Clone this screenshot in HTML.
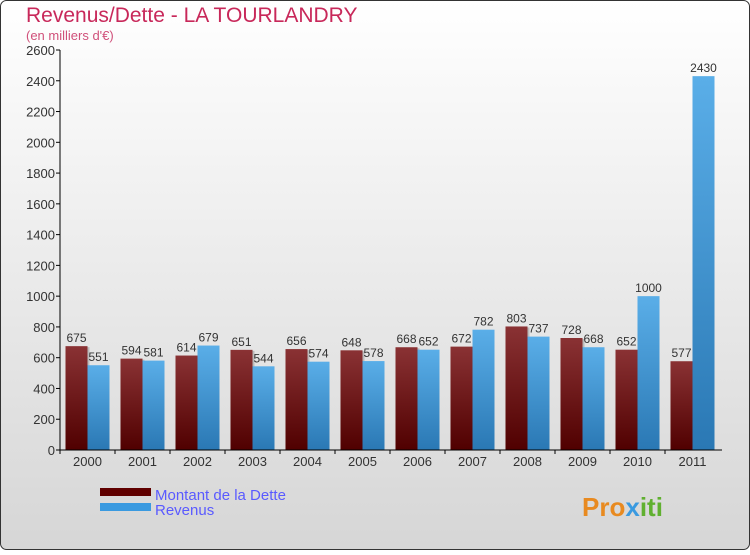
<!DOCTYPE html>
<html><head><meta charset="utf-8"><style>
body{margin:0;width:750px;height:550px;overflow:hidden;font-family:"Liberation Sans",sans-serif}
</style></head><body>
<svg width="750" height="550" xmlns="http://www.w3.org/2000/svg">
<defs>
<linearGradient id="bg" x1="0" y1="0" x2="0" y2="1"><stop offset="0" stop-color="#ffffff"/><stop offset="1" stop-color="#d6d6d6"/></linearGradient>
<linearGradient id="gd" x1="0" y1="0" x2="0" y2="1"><stop offset="0" stop-color="#8a3234"/><stop offset="1" stop-color="#500000"/></linearGradient>
<linearGradient id="gr" x1="0" y1="0" x2="0" y2="1"><stop offset="0" stop-color="#5aaee8"/><stop offset="1" stop-color="#2a78b4"/></linearGradient>
</defs>
<rect x="0.5" y="0.5" width="749" height="549" rx="6" fill="url(#bg)" stroke="#333"/>
<text x="26" y="22" font-size="21" fill="#c8285a">Revenus/Dette - LA TOURLANDRY</text>
<text x="26" y="40" font-size="13" fill="#d0507a">(en milliers d'€)</text>
<g id="plot"></g>
<rect x="100" y="488" width="51" height="8" fill="#600000"/>
<rect x="100" y="503" width="51" height="8" fill="#3a9ae0"/>
<text x="155" y="500" font-size="15" fill="#5a5aff">Montant de la Dette</text>
<text x="155" y="515" font-size="15" fill="#5a5aff">Revenus</text>
<text x="582" y="516" font-size="26" font-weight="bold" fill="#e88a20">Pro<tspan fill="#3a9ae0">x</tspan><tspan fill="#60b030">iti</tspan></text>
</svg>
<script>
const years=["2000","2001","2002","2003","2004","2005","2006","2007","2008","2009","2010","2011"];
const dette=[675,594,614,651,656,648,668,672,803,728,652,577];
const revenus=[551,581,679,544,574,578,652,782,737,668,1000,2430];
const ticks=[0,200,400,600,800,1000,1200,1400,1600,1800,2000,2200,2400,2600];
const NS="http://www.w3.org/2000/svg";
const g=document.getElementById('plot');
const y0=450,yTop=50,maxV=2600;
const y=v=>y0-(v/maxV)*(y0-yTop);
const x=i=>87.5+i*55;
function mk(t,a,txt){const e=document.createElementNS(NS,t);for(const k in a)e.setAttribute(k,a[k]);if(txt!==undefined)e.textContent=txt;g.appendChild(e);return e;}
ticks.forEach(t=>{
  const l=mk('line',{x1:56,x2:60,y1:y(t),y2:y(t),stroke:'#000'});
  
  
  const tx=mk('text',{x:55,y:y(t)+5,'font-size':13,fill:'#333','text-anchor':'end'},t);
  
  
});
years.forEach((yr,i)=>{
  const cx=x(i);
  const sd=mk('rect',{x:cx-22+2,y:y(dette[i])+1,width:22,height:y0-y(dette[i])-1,fill:'#bbb'});
  
  
  const b1=mk('rect',{x:cx-22,y:y(dette[i]),width:22,height:y0-y(dette[i]),fill:'url(#gd)'});
  
  
  const b2=mk('rect',{x:cx,y:y(revenus[i]),width:22,height:y0-y(revenus[i]),fill:'url(#gr)'});
  
  
  const t1=mk('text',{x:cx-11,y:y(dette[i])-4,'font-size':12,fill:'#333','text-anchor':'middle'},dette[i]);
  
  
  const t2=mk('text',{x:cx+11,y:y(revenus[i])-4,'font-size':12,fill:'#333','text-anchor':'middle'},revenus[i]);
  
  
  const tk=mk('line',{x1:cx-27.5,x2:cx-27.5,y1:y0,y2:y0+4,stroke:'#000'});
  
  
  const xl=mk('text',{x:cx,y:y0+16,'font-size':13,fill:'#333','text-anchor':'middle'},yr);
  
  
});
const ya=mk('line',{x1:60,x2:60,y1:yTop,y2:y0,stroke:'#000'});


const xa=mk('line',{x1:60,x2:722,y1:y0,y2:y0,stroke:'#000'});


</script>
</body></html>
